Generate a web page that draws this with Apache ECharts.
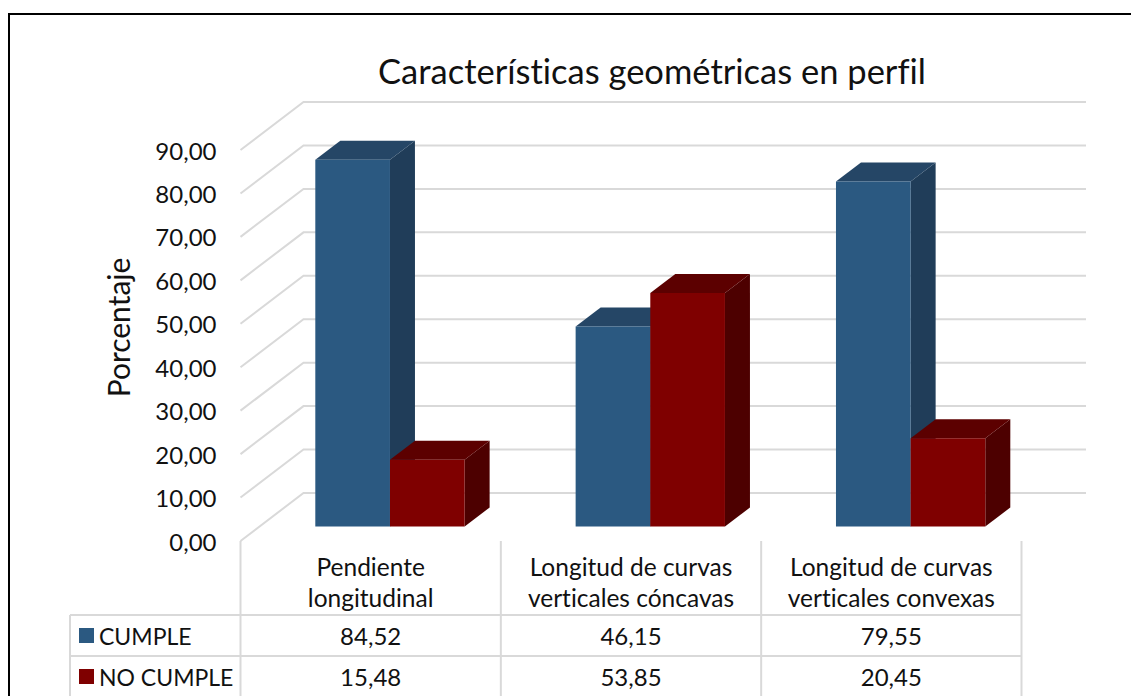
<!DOCTYPE html>
<html><head><meta charset="utf-8">
<style>html,body{margin:0;padding:0;background:#fff}#c{width:1131px;height:696px}#c text{font-variant-ligatures:none}</style>
<script src="https://cdn.jsdelivr.net/npm/echarts@6/dist/echarts.min.js"></script>
</head><body><div id="c"></div>
<script>
const categories = ['Pendiente\nlongitudinal', 'Longitud de curvas\nverticales cóncavas', 'Longitud de curvas\nverticales convexas'];
const cumple = [84.52, 46.15, 79.55];
const noCumple = [15.48, 53.85, 20.45];
const yTicks = [0, 10, 20, 30, 40, 50, 60, 70, 80, 90];
const seriesNames = ['CUMPLE', 'NO CUMPLE'];

const FONT = 'Lato';
const GRID = '#d9d9d9';
const fmt = v => v.toFixed(2).replace('.', ',');
const ROWS = [615, 656, 697];
const DEPTH = {x: 25, y: -19};
const WALL = {x: 63, y: -48};

function barItem(side, front, top, dark) {
  return function (params, api) {
    const base = api.coord([api.value(0), 0]);
    const peak = api.coord([api.value(0), api.value(1)]);
    const band = api.size([1, 0])[0];
    const w = band * 0.2868;
    const cx = base[0] + 19.3;
    const x0 = side === 0 ? cx - w : cx, x1 = x0 + w;
    const y0 = base[1] - 14.5, y1 = peak[1] - 14;
    const dx = DEPTH.x, dy = DEPTH.y;
    return {type: 'group', children: [
      {type: 'polygon', shape: {points: [[x1, y0], [x1 + dx, y0 + dy], [x1 + dx, y1 + dy], [x1, y1]]}, style: {fill: dark}},
      {type: 'polygon', shape: {points: [[x0, y1], [x0 + dx, y1 + dy], [x1 + dx, y1 + dy], [x1, y1]]}, style: {fill: top}},
      {type: 'rect', shape: {x: x0, y: y1, width: w, height: y0 - y1}, style: {fill: front}}
    ]};
  };
}

const legendBase = {
  orient: 'vertical', left: 79, padding: 0,
  itemWidth: 15, itemHeight: 15, icon: 'rect',
  textStyle: {fontFamily: FONT, fontSize: 23, color: '#111'}
};

const option = {
  animation: false,
  backgroundColor: '#fff',
  color: ['#2b5981', '#7f0000'],
  title: {
    text: 'Características geométricas en perfil',
    left: 647, top: 48, textAlign: 'center',
    textStyle: {fontFamily: FONT, fontSize: 34.5, fontWeight: 'normal', color: '#111'}
  },
  legend: [
    Object.assign({}, legendBase, {data: [seriesNames[0]], top: 624}),
    Object.assign({}, legendBase, {data: [seriesNames[1]], top: 665})
  ],
  grid: {left: 240.5, right: 109.5, top: 150, bottom: 155},
  xAxis: {
    type: 'category', data: categories,
    axisLine: {show: false}, axisTick: {show: false}, splitLine: {show: false},
    axisLabel: {fontFamily: FONT, fontSize: 24.5, color: '#111', lineHeight: 31, margin: 10, interval: 0}
  },
  yAxis: {
    type: 'value', min: 0, max: 90, interval: 10,
    name: 'Porcentaje', nameLocation: 'middle', nameGap: 108,
    nameTextStyle: {fontFamily: FONT, fontSize: 30, color: '#111', padding: [0, 0, 0, 36]},
    axisLine: {show: false}, axisTick: {show: false}, splitLine: {show: false},
    axisLabel: {fontFamily: FONT, fontSize: 24, color: '#111', margin: 24, padding: [4, 0, 0, 0], formatter: v => fmt(v)}
  },
  series: [
    {
      type: 'custom', name: 'walls', silent: true, z: 1,
      data: yTicks.map(v => [0, v]), encode: {x: 0, y: 1},
      renderItem(params, api) {
        const p = api.coord([0, api.value(1)]);
        const band = api.size([1, 0])[0];
        const x0 = p[0] - band / 2, y0 = p[1];
        const xr = x0 + band * 3 + WALL.x + 1.5;
        return {type: 'polyline', shape: {points: [[x0, y0], [x0 + WALL.x, y0 + WALL.y], [xr, y0 + WALL.y]]},
          style: {stroke: GRID, lineWidth: 2, fill: null}};
      }
    },
    {
      type: 'custom', name: seriesNames[0], z: 2, silent: true,
      itemStyle: {color: '#2b5981'},
      data: cumple.map((v, i) => [i, v]), encode: {x: 0, y: 1},
      renderItem: barItem(0, '#2b5981', '#254666', '#203d59')
    },
    {
      type: 'custom', name: seriesNames[1], z: 3, silent: true,
      itemStyle: {color: '#7f0000'},
      data: noCumple.map((v, i) => [i, v]), encode: {x: 0, y: 1},
      renderItem: barItem(1, '#7f0000', '#5c0000', '#4d0000')
    },
    {
      type: 'custom', name: 'table', silent: true, z: 4,
      data: categories.map((c, i) => [i, cumple[i], noCumple[i]]), encode: {x: 0},
      renderItem(params, api) {
        const i = api.value(0);
        const p = api.coord([i, 0]);
        const band = api.size([1, 0])[0];
        const xl = p[0] - band / 2, xr = p[0] + band / 2;
        const kids = [];
        const line = (a, b, c, d) => kids.push({type: 'line', shape: {x1: a, y1: b, x2: c, y2: d}, style: {stroke: GRID, lineWidth: 2}});
        line(xr, p[1], xr, ROWS[2]);
        if (i === 0) {
          line(xl, p[1], xl, ROWS[2]);
          line(70, ROWS[0], 70, ROWS[2]);
          ROWS.forEach(y => line(70, y, xl, y));
        }
        ROWS.forEach(y => line(xl, y, xr, y));
        [api.value(1), api.value(2)].forEach((v, r) => kids.push({type: 'text', style: {
          text: fmt(v), x: p[0], y: (ROWS[r] + ROWS[r + 1]) / 2, align: 'center', verticalAlign: 'middle',
          font: '24px ' + FONT, fill: '#111'}}));
        return {type: 'group', children: kids};
      }
    }
  ],
  graphic: [{type: 'rect', silent: true, z: 0,
    shape: {x: 9, y: 14, width: 1140, height: 700},
    style: {fill: null, stroke: '#000', lineWidth: 2}}]
};
const chart = echarts.init(document.getElementById('c'), null, {renderer: 'svg'});
chart.setOption(option);
</script></body></html>
